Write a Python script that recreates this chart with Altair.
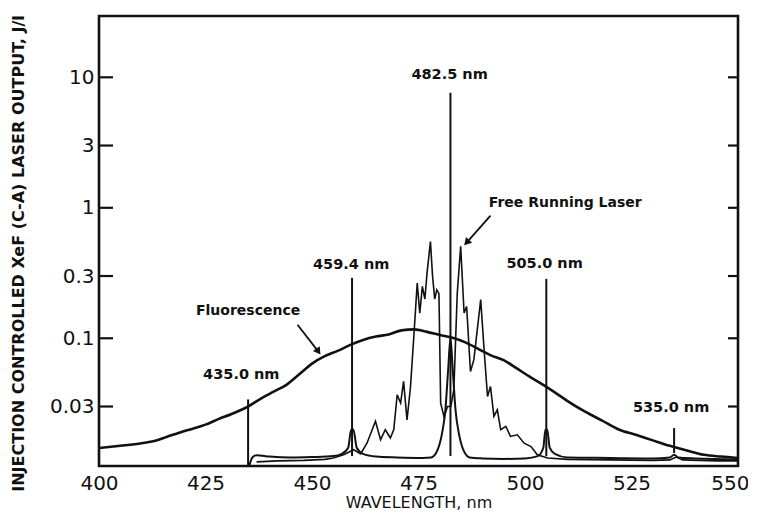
import altair as alt
import pandas as pd

# ---------------- data ----------------
# Fluorescence spectrum (nm, J/l)
fl_nm = [400, 405, 410, 413, 416, 419, 422, 425, 428, 431, 435, 438, 441, 444, 447,
         450, 453, 456, 459, 462, 465, 468, 471, 474, 477, 480, 483, 486, 489, 492,
         495, 498, 501, 504, 507, 510, 514, 518, 522, 526, 530, 534, 538, 542, 546, 550]
fl_val = [0.0144, 0.0150, 0.0157, 0.0163, 0.0176, 0.0190, 0.0203, 0.0218, 0.0240, 0.0262,
          0.0300, 0.0345, 0.0390, 0.0440, 0.0530, 0.0640, 0.0730, 0.0800, 0.0890, 0.0970,
          0.1030, 0.1070, 0.1150, 0.1170, 0.1120, 0.1060, 0.1010, 0.0930, 0.0830, 0.0740,
          0.0680, 0.0590, 0.0510, 0.0445, 0.0385, 0.0330, 0.0275, 0.0235, 0.0200, 0.0182,
          0.0165, 0.0150, 0.0138, 0.0128, 0.0124, 0.0121]

# Free running laser spectrum
fr_nm = [437.0, 442.0, 448.0, 453.0, 455.0, 457.4, 459.8, 461.4, 462.9, 464.9, 466.1, 467.2,
         468.4, 469.2, 470.0, 470.8, 471.5, 472.3, 473.1, 473.9, 474.7, 475.3, 475.9, 476.5,
         477.0, 477.8, 478.3, 478.8, 479.3, 479.8, 480.2, 481.0, 481.8, 482.6, 483.3, 484.1,
         484.9, 485.7, 486.3, 487.2, 488.0, 489.6, 490.4, 491.2, 491.9, 492.7, 493.5, 494.3,
         495.5, 496.6, 498.2, 499.8, 501.4, 502.9, 505.3, 510.0, 520.0, 530.0, 534.0, 535.5,
         537.0, 545.0, 550.0]
fr_val = [0.0113, 0.0115, 0.0116, 0.0118, 0.0121, 0.0128, 0.0140, 0.0130, 0.0157, 0.0231,
          0.0167, 0.0199, 0.0172, 0.0200, 0.0369, 0.0319, 0.0467, 0.0237, 0.0416, 0.1030,
          0.2650, 0.1560, 0.2500, 0.2000, 0.3160, 0.5500, 0.3000, 0.2000, 0.2350, 0.2200,
          0.0318, 0.0250, 0.0300, 0.0300, 0.0404, 0.2220, 0.5070, 0.1560, 0.1750, 0.0557,
          0.0686, 0.1980, 0.0816, 0.0358, 0.0427, 0.0252, 0.0283, 0.0199, 0.0211, 0.0177,
          0.0182, 0.0157, 0.0148, 0.0128, 0.0121, 0.0118, 0.0117, 0.0116, 0.0117, 0.0123,
          0.0117, 0.0115, 0.0115]

# Injection controlled spectrum: low-level base line
ic_nm = [435.3, 436.0, 437.0, 440.0, 445.0, 450.0, 455.0, 457.0, 458.5, 459.2, 459.7, 460.5,
         462.0, 465.0, 470.0, 476.0, 478.0, 479.5, 480.5, 481.3, 482.0, 482.5, 483.0, 483.7,
         484.5, 485.5, 487.0, 490.0, 495.0, 500.0, 503.0, 504.3, 504.8, 505.2, 505.8, 507.0,
         510.0, 520.0, 530.0, 534.0, 535.0, 536.0, 540.0, 550.0]
ic_val = [0.0106, 0.0122, 0.0127, 0.0124, 0.0122, 0.0123, 0.0125, 0.0130, 0.0145, 0.0200,
          0.0200, 0.0145, 0.0130, 0.0124, 0.0122, 0.0121, 0.0122, 0.0140, 0.0185, 0.0280,
          0.0600, 0.1000, 0.0600, 0.0280, 0.0185, 0.0140, 0.0122, 0.0120, 0.0119, 0.0120,
          0.0125, 0.0145, 0.0200, 0.0200, 0.0145, 0.0130, 0.0122, 0.0121, 0.0120, 0.0122,
          0.0128, 0.0122, 0.0120, 0.0118]

# Injection controlled laser lines
spike_nm = [435.0, 459.4, 482.5, 505.0, 535.0]
spike_top = [0.034, 0.29, 7.6, 0.285, 0.0205]
spike_base = [0.0105, 0.0125, 0.0125, 0.0125, 0.0132]

# Line labels
lab_text = ["435.0 nm", "459.4 nm", "482.5 nm", "505.0 nm", "535.0 nm"]
lab_nm = [433.4, 459.2, 482.3, 504.6, 534.3]
lab_val = [0.0526, 0.366, 10.5, 0.37, 0.0292]

# Curve annotations with arrows
ann_text = ["Fluorescence", "Free Running Laser"]
ann_nm = [435.0, 491.5]
ann_val = [0.1625, 1.096]
ann_align = ["center", "left"]
arr_nm0 = [446.6, 491.9]
arr_val0 = [0.127, 0.871]
arr_nm1 = [451.5, 486.3]
arr_val1 = [0.079, 0.541]
arr_angle = [145, 222]

x_ticks = [400, 425, 450, 475, 500, 525, 550]
y_ticks = [0.03, 0.1, 0.3, 1, 3, 10]

# ---------------- chart ----------------
W, H = 639, 450
FONT = "DejaVu Sans"
INK = "#111111"

xs = alt.Scale(domain=[400, 550], nice=False, zero=False)
ys = alt.Scale(type="log", domain=[0.0105, 29.5], nice=False)

xax = alt.Axis(values=x_ticks, format="d", ticks=False, domain=False, grid=False,
               labelFlush=False, labelPadding=7, labelFontSize=20, labelFont=FONT,
               labelColor=INK,
               labelAlign={"expr": "datum.value == 550 ? 'right' : 'center'"},
               labelOffset={"expr": "datum.value == 550 ? 11 : 0"},
               title="WAVELENGTH, nm", titleFont=FONT, titleFontSize=16,
               titleFontWeight="normal", titleColor=INK, titlePadding=1)
yax = alt.Axis(values=y_ticks, format="~g", ticks=False, domain=False, grid=False,
               labelPadding=5, labelFontSize=20, labelFont=FONT, labelColor=INK,
               title="INJECTION CONTROLLED XeF (C-A) LASER OUTPUT, J/l", titleFont=FONT,
               titleFontSize=16, titleFontWeight="bold", titleColor=INK, titleLimit=900,
               titlePadding=23, titleY=237)

fl_df = pd.DataFrame({"nm": fl_nm, "v": fl_val})
fr_df = pd.DataFrame({"nm": fr_nm, "v": fr_val})
ic_df = pd.DataFrame({"nm": ic_nm, "v": ic_val})
sp_df = pd.DataFrame({"nm": spike_nm, "top": spike_top, "base": spike_base})
lab_df = pd.DataFrame({"t": lab_text, "nm": lab_nm, "v": lab_val})
ann_df = pd.DataFrame({"t": ann_text, "nm": ann_nm, "v": ann_val, "al": ann_align})
arr_df = pd.DataFrame({"x0": arr_nm0, "y0": arr_val0, "x1": arr_nm1, "y1": arr_val1,
                       "ang": arr_angle})
tk_df = pd.DataFrame({"v": y_ticks})

fluor = alt.Chart(fl_df).mark_line(color=INK, strokeWidth=2.6, interpolate="monotone").encode(
    x=alt.X("nm:Q", scale=xs, axis=xax), y=alt.Y("v:Q", scale=ys, axis=yax))
free = alt.Chart(fr_df).mark_line(color=INK, strokeWidth=1.6).encode(
    x=alt.X("nm:Q", scale=xs), y=alt.Y("v:Q", scale=ys))
inj = alt.Chart(ic_df).mark_line(color=INK, strokeWidth=2.0, interpolate="monotone").encode(
    x=alt.X("nm:Q", scale=xs), y=alt.Y("v:Q", scale=ys))
spikes = alt.Chart(sp_df).mark_rule(color=INK, strokeWidth=2.0).encode(
    x=alt.X("nm:Q", scale=xs), y=alt.Y("base:Q", scale=ys), y2="top:Q")
labels = alt.Chart(lab_df).mark_text(font=FONT, fontSize=14.5, fontWeight="bold",
                                     color=INK, baseline="middle", align="center").encode(
    x=alt.X("nm:Q", scale=xs), y=alt.Y("v:Q", scale=ys), text="t:N")
ann_c = alt.Chart(ann_df[ann_df["al"] == "center"]).mark_text(
    font=FONT, fontSize=14, fontWeight="bold", color=INK, baseline="middle",
    align="center").encode(x=alt.X("nm:Q", scale=xs), y=alt.Y("v:Q", scale=ys), text="t:N")
ann_l = alt.Chart(ann_df[ann_df["al"] == "left"]).mark_text(
    font=FONT, fontSize=14, fontWeight="bold", color=INK, baseline="middle",
    align="left").encode(x=alt.X("nm:Q", scale=xs), y=alt.Y("v:Q", scale=ys), text="t:N")
arrows = alt.Chart(arr_df).mark_rule(color=INK, strokeWidth=1.8).encode(
    x=alt.X("x0:Q", scale=xs), x2="x1:Q", y=alt.Y("y0:Q", scale=ys), y2="y1:Q")
heads = alt.Chart(arr_df).mark_point(shape="triangle-up", filled=True, size=70,
                                     color=INK, opacity=1).encode(
    x=alt.X("x1:Q", scale=xs), y=alt.Y("y1:Q", scale=ys),
    angle=alt.Angle("ang:Q", scale=None))
ltick = alt.Chart(tk_df).mark_rule(color=INK, strokeWidth=2.2).encode(
    x=alt.value(0), x2=alt.value(14), y=alt.Y("v:Q", scale=ys))
rtick = alt.Chart(tk_df).mark_rule(color=INK, strokeWidth=2.2).encode(
    x=alt.value(W - 10), x2=alt.value(W), y=alt.Y("v:Q", scale=ys))

chart = alt.layer(fluor, free, inj, spikes, labels, ann_c, ann_l, arrows, heads,
                  ltick, rtick).properties(
    width=W, height=H,
    autosize=alt.AutoSizeParams(type="none"),
    padding={"left": 91, "top": 8, "right": 10, "bottom": 44},
    background="white",
).configure_view(stroke=INK, strokeWidth=2.6)

chart.save("out.html", embed_options={"renderer": "svg", "actions": False})
